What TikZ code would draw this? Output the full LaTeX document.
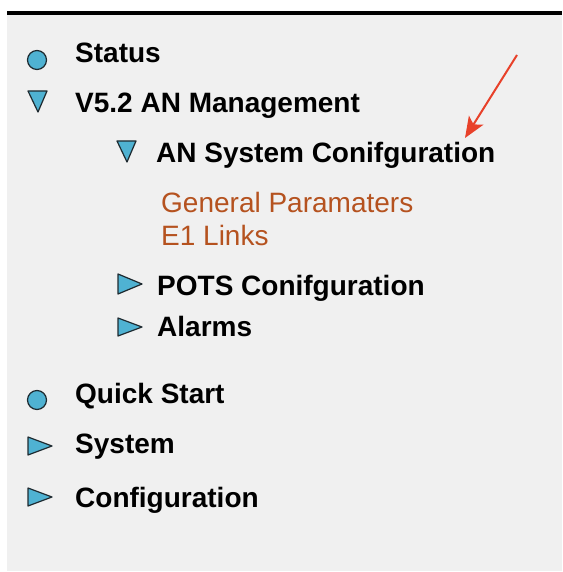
\documentclass[tikz,border=0pt]{standalone}
\usepackage{fontspec}
\setmainfont{Liberation Sans}
\usetikzlibrary{arrows.meta}
\definecolor{panel}{HTML}{F0F0F0}
\definecolor{iconfill}{HTML}{4FB2D2}
\definecolor{iconline}{HTML}{1E2A30}
\definecolor{linkbrown}{HTML}{B5521F}
\definecolor{arrowred}{HTML}{E8412A}
\begin{document}
\begin{tikzpicture}[x=1pt,y=-1pt,
  item/.style={anchor=base west,inner sep=0pt,font=\fontsize{28}{34}\selectfont\bfseries,text=black},
  link/.style={anchor=base west,inner sep=0pt,font=\fontsize{28}{34}\selectfont,text=linkbrown},
  icon/.style={fill=iconfill,draw=iconline,line width=1.2pt,line join=round}]
\useasboundingbox (0,0) rectangle (562,572);
\fill[white] (0,0) rectangle (562,572);
\fill[panel] (7,15) rectangle (562,571);
\fill[black] (7,11) rectangle (562,15);
% icons
\draw[icon] (37,60) circle (9.5);
\draw[icon] (28,91) -- (47,91) -- (38,112) -- cycle;
\draw[icon] (117,141) -- (136,141) -- (127,162) -- cycle;
\draw[icon] (118,274) -- (142,284) -- (118,294) -- cycle;
\draw[icon] (118,318) -- (142,327) -- (118,336) -- cycle;
\draw[icon] (37,400) circle (9.5);
\draw[icon] (28,437) -- (52,446) -- (28,455) -- cycle;
\draw[icon] (28,488) -- (52,497) -- (28,506) -- cycle;
% texts
\node[item] (status) at (75,63) {Status};
\node[item] (v52) at (75,113) {V5.2 AN Management};
\node[item] (ansys) at (156,163) {AN System Conifguration};
\node[link] (gen) at (161,212) {General Paramaters};
\node[link] (e1) at (161,245) {E1 Links};
\node[item] (pots) at (157,295) {POTS Conifguration};
\node[item] (alarms) at (157,336) {Alarms};
\node[item] (quick) at (75,403) {Quick Start};
\node[item] (system) at (75,453) {System};
\node[item] (config) at (75,507) {Configuration};
% arrow
\coordinate (arrowstart) at (517,55);
\coordinate (arrowtip) at (465,138);
\draw[arrowred,line width=2pt,-{Stealth[length=21pt,width=17pt,inset=5pt]}] (arrowstart) -- (arrowtip);
\end{tikzpicture}
\end{document}
